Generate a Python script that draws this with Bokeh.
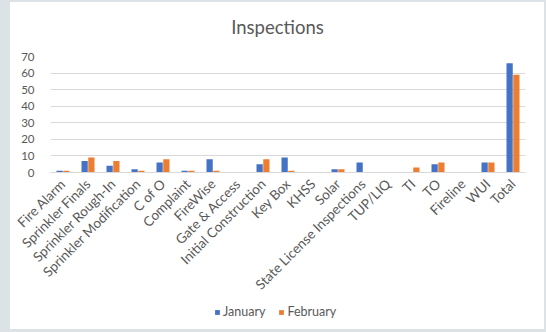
import math
from bokeh.plotting import figure
from bokeh.models import (ColumnDataSource, FactorRange, Legend, LegendItem,
                          Range1d, FixedTicker, Label)
from bokeh.layouts import column, row
from bokeh.transform import dodge
from bokeh.embed import file_html
from bokeh.resources import INLINE

chart_title = "Inspections"
categories = ["Fire Alarm", "Sprinkler Finals", "Sprinkler Rough-In",
              "Sprinkler Modification", "C of O", "Complaint", "FireWise",
              "Gate & Access", "Initial Construction", "Key Box", "KHSS",
              "Solar", "State License Inspections", "TUP/LIQ", "TI", "TO",
              "Fireline", "WUI", "Total"]
january = [1, 7, 4, 2, 6, 1, 8, 0, 5, 9, 0, 2, 6, 0, 0, 5, 0, 6, 66]
february = [1, 9, 7, 1, 8, 1, 1, 0, 8, 1, 0, 2, 0, 0, 3, 6, 0, 6, 59]
series_names = ["January", "February"]
y_ticks = [0, 10, 20, 30, 40, 50, 60, 70]

FONT = "Lato"
TXT = "#595959"
BLUE = "#4472C4"
ORANGE = "#ED7D31"
BG = "#dce3e6"

src = ColumnDataSource(dict(cat=categories, jan=january, feb=february))

# title strip (its frame is aligned with the chart's frame by the column)
tt = figure(width=534, height=40, output_backend="svg", toolbar_location=None,
            min_border=0, x_axis_type=None, y_axis_type=None,
            x_range=Range1d(0, 1), y_range=Range1d(0, 1))
tt.grid.visible = False
tt.outline_line_color = None
tt.background_fill_color = "white"
tt.border_fill_color = "white"
tt.add_layout(Label(x=227, y=16, x_units="screen", y_units="screen",
                    text=chart_title, text_align="center",
                    text_baseline="middle", text_font=FONT,
                    text_font_size="18.5px", text_color=TXT))

p = figure(x_range=FactorRange(*categories), y_range=Range1d(0, 70),
           width=534, height=262, output_backend="svg", toolbar_location=None,
           min_border_left=40, min_border_right=19, min_border_top=14,
           min_border_bottom=132)
p.background_fill_color = "white"
p.border_fill_color = "white"
p.outline_line_color = None

p.vbar(x=dodge("cat", -0.135, range=p.x_range), top="jan", width=0.25,
       source=src, fill_color=BLUE, line_color=None)
p.vbar(x=dodge("cat", 0.135, range=p.x_range), top="feb", width=0.25,
       source=src, fill_color=ORANGE, line_color=None)

p.xgrid.grid_line_color = None
p.ygrid.grid_line_color = "#d9d9d9"
p.yaxis.ticker = FixedTicker(ticks=y_ticks)

for ax in (p.xaxis[0], p.yaxis[0]):
    ax.major_tick_line_color = None
    ax.minor_tick_line_color = None
    ax.major_tick_out = 0
    ax.major_tick_in = 0
    ax.major_label_text_font = FONT
    ax.major_label_text_color = TXT
p.yaxis.major_label_text_font_size = "11.5px"
p.xaxis.major_label_text_font_size = "13.5px"
p.yaxis.axis_line_color = None
p.yaxis.major_label_standoff = 16
p.xaxis.axis_line_color = "#d9d9d9"
p.xaxis.major_label_orientation = math.pi / 4
p.xaxis.major_label_standoff = 9

# legend strip: same series as hidden zero-height bars, so only the legend shows
lg = figure(width=534, height=25, output_backend="svg", toolbar_location=None,
            min_border=0, x_axis_type=None, y_axis_type=None,
            x_range=FactorRange(*categories), y_range=Range1d(-2, -1))
lg.grid.visible = False
lg.outline_line_color = None
lg.background_fill_color = "white"
lg.border_fill_color = "white"
e1 = lg.vbar(x=dodge("cat", -0.135, range=lg.x_range), bottom="jan",
             top="jan", width=0.25, source=src, fill_color=BLUE,
             line_color=None)
e2 = lg.vbar(x=dodge("cat", 0.135, range=lg.x_range), bottom="feb",
             top="feb", width=0.25, source=src, fill_color=ORANGE,
             line_color=None)
e1.visible = False
e2.visible = False

legend = Legend(items=[LegendItem(label=series_names[0], renderers=[e1]),
                       LegendItem(label=series_names[1], renderers=[e2])],
                location=(164, 10), orientation="horizontal")
legend.glyph_width = 6
legend.glyph_height = 6
legend.label_height = 12
legend.label_standoff = 3
legend.spacing = 13
legend.padding = 0
legend.margin = 0
legend.border_line_color = None
legend.background_fill_alpha = 0
legend.label_text_font = FONT
legend.label_text_font_size = "12.5px"
legend.label_text_color = TXT
lg.add_layout(legend, "center")

panel = column(tt, p, lg, spacing=0, styles={"background-color": "white"})
panel.margin = (2, 2, 3, 10)
layout = row(panel, styles={"background-color": BG})

open("out.html", "w").write(file_html(layout, INLINE))
